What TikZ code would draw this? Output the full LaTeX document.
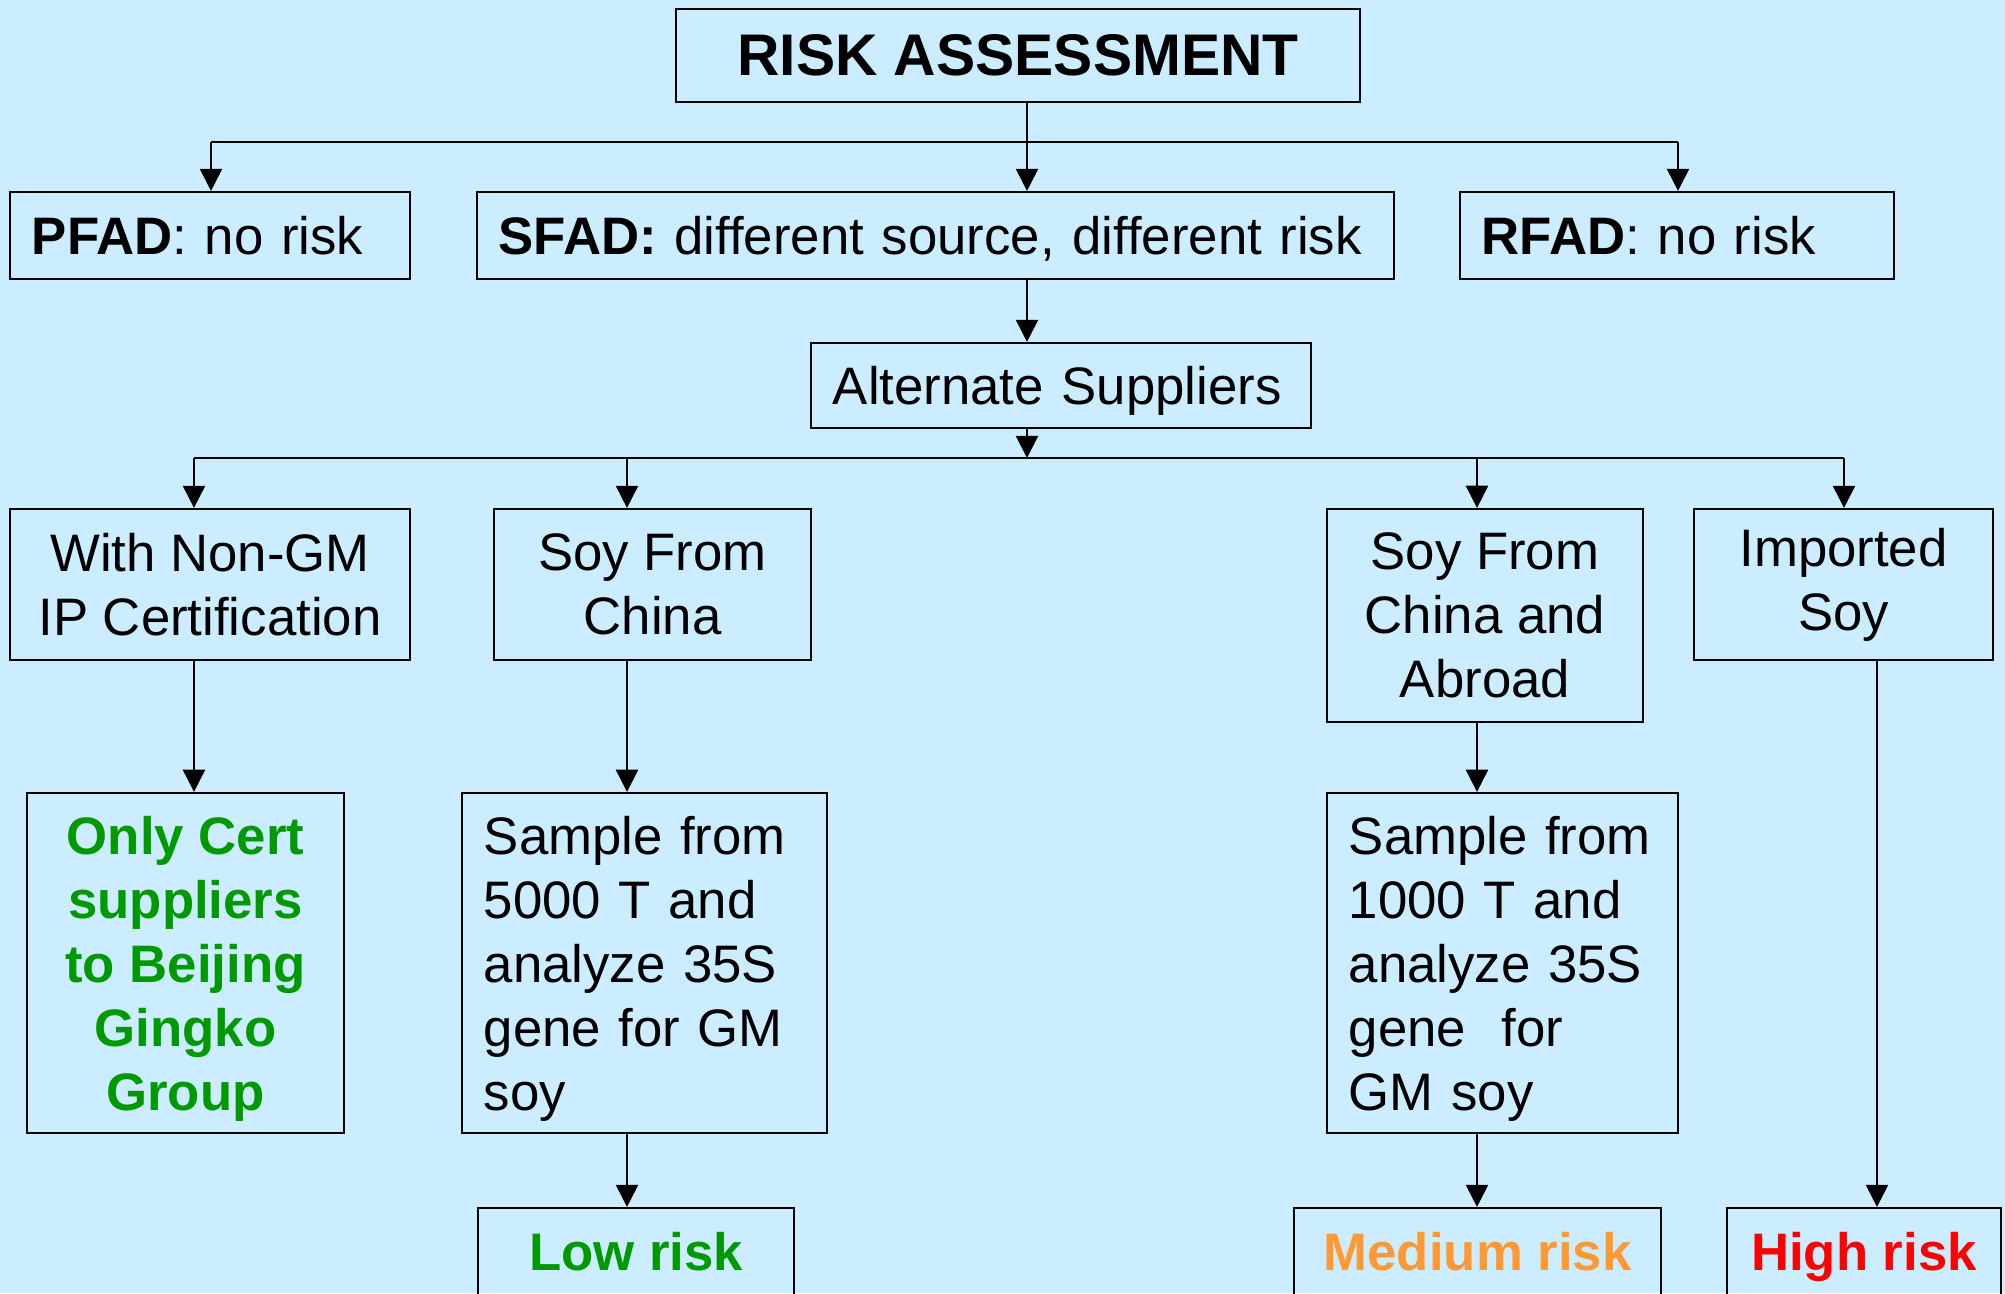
\documentclass[tikz,border=0pt]{standalone}
\usepackage{fontspec}
\setmainfont{Liberation Sans}
\usepackage{xcolor}
\usepackage{tikz}
\usetikzlibrary{calc,arrows.meta}
\definecolor{bg}{HTML}{CCECFF}
\definecolor{ink}{HTML}{000000}
\definecolor{okgreen}{HTML}{009900}
\definecolor{midorange}{HTML}{FF9933}
\definecolor{hired}{HTML}{FF0000}
\newcommand{\topgap}{\rule{0pt}{14.3pt}}
\tikzset{
  box/.style={draw=ink, line width=0.6pt, rectangle, inner sep=0pt, font=\fontsize{15}{18.2}\selectfont},
  cbox/.style={box, align=center},
  lbox/.style={box, align=left, inner xsep=0.22cm},
  one/.style={text depth=0pt},
  line/.style={draw=ink, line width=0.55pt},
  arr/.style={line, -{Triangle[length=6.3pt, width=6.3pt]}},
  good/.style={text=okgreen, font=\fontsize{15}{18.2}\selectfont\bfseries},
}
\begin{document}
\begin{tikzpicture}[x=0.01cm, y=-0.01cm]
  \fill[bg] (0,0) rectangle (2005,1293);
  \useasboundingbox (0,0) rectangle (2005,1293);

  \node[cbox, minimum width=6.84cm, minimum height=0.93cm, font=\fontsize{16.7}{20}\selectfont\bfseries] (title) at (1018,55.5) {RISK ASSESSMENT};

  \node[lbox, one, text width=3.56cm, minimum height=0.87cm] (pfad) at (210,235.5) {\textbf{PFAD}: no risk};
  \node[lbox, one, text width=8.73cm, minimum height=0.87cm] (sfad) at (935.5,235.5) {\textbf{SFAD:} different source, different risk};
  \node[lbox, one, text width=3.90cm, minimum height=0.87cm] (rfad) at (1677,235.5) {\textbf{RFAD}: no risk};

  \node[lbox, one, text width=4.56cm, minimum height=0.85cm] (alt) at (1061,385.5) {Alternate Suppliers};

  \node[cbox, minimum width=4.00cm, minimum height=1.51cm] (nongm) at (210,584.5) {With Non-GM\\IP Certification};
  \node[cbox, minimum width=3.17cm, minimum height=1.51cm] (china) at (652.5,584.5) {Soy From\\China};
  \node[cbox, minimum width=3.16cm, minimum height=2.13cm] (abroad) at (1485,615.5) {Soy From\\China and\\Abroad};
  \node[cbox, minimum width=2.99cm, minimum height=1.51cm] (imported) at (1843.5,584.5) {Imported\\Soy};

  \node[cbox, good, minimum width=3.17cm, minimum height=3.40cm] (cert) at (185.5,963) {\topgap Only Cert\\suppliers\\to Beijing\\Gingko\\Group};
  \node[lbox, text width=3.21cm, minimum height=3.40cm] (samp5) at (644.5,963) {\topgap Sample from\\5000 T and\\analyze 35S\\gene for GM\\soy};
  \node[lbox, text width=3.07cm, minimum height=3.40cm] (samp1) at (1502.5,963) {\topgap Sample from\\1000 T and\\analyze 35S\\gene\ \ for\\GM soy};

  \node[cbox, good, one, minimum width=3.16cm, minimum height=0.87cm] (low) at (636,1251.5) {Low risk};
  \node[cbox, good, one, text=midorange, minimum width=3.67cm, minimum height=0.87cm] (medium) at (1477.5,1251.5) {Medium risk};
  \node[cbox, good, one, text=hired, minimum width=2.74cm, minimum height=0.87cm] (high) at (1864,1251.5) {High risk};

  % branch points
  \coordinate (ax) at (1027,0);
  \coordinate (bus1l) at (211,142);
  \coordinate (bus1r) at (1678,142);
  \coordinate (bus2) at (1027,458);
  \coordinate (bus2l) at (194,458);
  \coordinate (bus2a) at (627,458);
  \coordinate (bus2b) at (1477,458);
  \coordinate (bus2r) at (1844,458);
  \coordinate (hx) at (1877,0);

  \draw[arr] (title.south -| ax) -- (sfad.north -| ax);
  \draw[line] (bus1l) -- (bus1r);
  \draw[arr] (bus1l) -- (pfad.north -| bus1l);
  \draw[arr] (bus1r) -- (rfad.north -| bus1r);
  \draw[arr] (sfad.south -| ax) -- (alt.north -| ax);
  \draw[arr] (alt.south -| ax) -- (bus2);
  \draw[line] (bus2l) -- (bus2r);
  \draw[arr] (bus2l) -- (nongm.north -| bus2l);
  \draw[arr] (bus2a) -- (china.north -| bus2a);
  \draw[arr] (bus2b) -- (abroad.north -| bus2b);
  \draw[arr] (bus2r) -- (imported.north -| bus2r);

  \draw[arr] (nongm.south -| bus2l) -- (cert.north -| bus2l);
  \draw[arr] (china.south -| bus2a) -- (samp5.north -| bus2a);
  \draw[arr] (abroad.south -| bus2b) -- (samp1.north -| bus2b);
  \draw[arr] (imported.south -| hx) -- (high.north -| hx);
  \draw[arr] (samp5.south -| bus2a) -- (low.north -| bus2a);
  \draw[arr] (samp1.south -| bus2b) -- (medium.north -| bus2b);
\end{tikzpicture}
\end{document}
